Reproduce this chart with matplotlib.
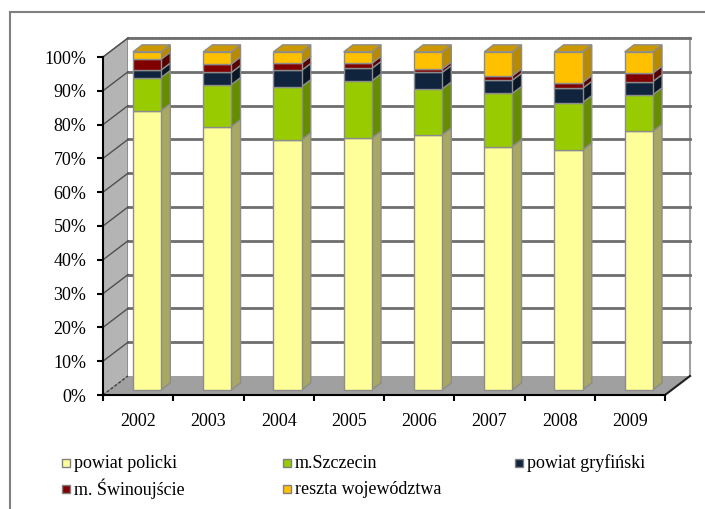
import matplotlib.pyplot as plt
from matplotlib.patches import Polygon, Rectangle
from matplotlib.lines import Line2D
import numpy as np

plt.rcParams['font.family'] = ['Liberation Serif', 'DejaVu Serif']

# udział (%) poszczególnych obszarów w kolejnych latach
lata = ['2002', '2003', '2004', '2005', '2006', '2007', '2008', '2009']
powiat_policki = [82.6, 77.9, 74.0, 74.5, 75.4, 72.0, 71.0, 76.5]
m_szczecin = [9.8, 12.4, 15.7, 16.9, 13.6, 15.7, 14.0, 10.8]
powiat_gryfinski = [2.2, 3.6, 4.8, 3.7, 4.9, 3.9, 4.2, 3.9]
m_swinoujscie = [3.2, 2.5, 2.1, 1.5, 1.0, 1.3, 1.7, 2.5]
reszta = [2.2, 3.6, 3.4, 3.4, 5.1, 7.1, 9.1, 6.3]

serie = [
    ('powiat policki', powiat_policki, '#FFFF99', '#A8A864'),
    ('m.Szczecin', m_szczecin, '#99CC00', '#668C00'),
    ('powiat gryfiński', powiat_gryfinski, '#10243E', '#0A1726'),
    ('m. Świnoujście', m_swinoujscie, '#800000', '#560000'),
    ('reszta województwa', reszta, '#FFC000', '#B88A00'),
]
kolor_gora = '#CC9900'

dane = np.array([s[1] for s in serie])
dane = dane / dane.sum(axis=0) * 100

fig = plt.figure(figsize=(7.05, 5.09), dpi=100)
ax = fig.add_axes([103 / 705, 114 / 509, 562 / 705, 338 / 509])
ax.set_xlim(-0.5, 7.5)
ax.set_ylim(0, 100)
ax.patch.set_visible(False)

# głębokość "3D" w jednostkach danych
DX = 25 / 70.25
DY = 19 / 3.38
x0, x1 = -0.5, 7.5

# ściana boczna, tylna i podłoga
ax.add_patch(Polygon([(x0, 0), (x0, 100), (x0 + DX, 100 + DY), (x0 + DX, DY)],
                     closed=True, fc='#B4B4B4', ec='#808080', lw=1, clip_on=False, zorder=1))
ax.add_patch(Rectangle((x0 + DX, DY), x1 - x0, 100, fc='white', ec='none',
                       clip_on=False, zorder=1))
ax.plot([x0 + DX, x1 + DX], [100 + DY, 100 + DY], color='#808080', lw=1.5,
        ls=(0, (1, 0.6)), clip_on=False, zorder=2)
ax.plot([x1 + DX, x1 + DX], [DY, 100 + DY], color='#A0A0A0', lw=1.5,
        clip_on=False, zorder=2)
for v in range(10, 101, 10):
    ax.plot([x0 + DX, x1 + DX], [v + DY, v + DY], color='#6E6E6E', lw=2,
            clip_on=False, zorder=2)
    ax.plot([x0, x0 + DX], [v, v + DY], color='#505050', lw=1,
            clip_on=False, zorder=2)
ax.add_patch(Polygon([(x0, 0), (x1, 0), (x1 + DX, DY), (x0 + DX, DY)],
                     closed=True, fc='#A0A0A0', ec='none', clip_on=False, zorder=2))
ax.plot([x0, x0 + DX], [0, DY], color='#404040', lw=1, ls=(0, (2, 1.5)),
        clip_on=False, zorder=3)
ax.plot([x1, x1 + DX], [0, DY], color='#202020', lw=1.5, clip_on=False, zorder=3)

# słupki
z0, z1 = 0.27, 0.64
szer = 0.4
xs = np.arange(len(lata)) + 0.03
bx = xs - szer / 2 + z0 * DX
dx_s = (z1 - z0) * DX
dy_s = (z1 - z0) * DY
krawedz = '#8C8C8C'
dol = np.zeros(len(lata))
for k, (nazwa, _, kolor, bok) in enumerate(serie):
    h = dane[k]
    ax.bar(bx, h, bottom=dol + z0 * DY, width=szer, align='edge', color=kolor,
           edgecolor=krawedz, linewidth=1, zorder=5, clip_on=False)
    for i in range(len(lata)):
        xr = bx[i] + szer
        yb = dol[i] + z0 * DY
        yt = yb + h[i]
        ax.add_patch(Polygon([(xr, yb), (xr + dx_s, yb + dy_s), (xr + dx_s, yt + dy_s), (xr, yt)],
                             closed=True, fc=bok, ec=krawedz, lw=1, zorder=4, clip_on=False))
        if k == len(serie) - 1:
            xl = bx[i]
            ax.add_patch(Polygon([(xl, yt), (xr, yt), (xr + dx_s, yt + dy_s), (xl + dx_s, yt + dy_s)],
                                 closed=True, fc=kolor_gora, ec=krawedz, lw=1, zorder=4,
                                 clip_on=False))
    dol = dol + h

# osie
for s in ['top', 'right']:
    ax.spines[s].set_visible(False)
for s in ['left', 'bottom']:
    ax.spines[s].set_color('black')
    ax.spines[s].set_linewidth(1.5)
    ax.spines[s].set_zorder(6)
ax.set_yticks(range(0, 101, 10))
ax.set_yticklabels(['{}%'.format(v) for v in range(0, 101, 10)])
ax.tick_params(axis='y', length=4, width=1.5, pad=8, labelsize=13)
ax.set_xticks(np.arange(len(lata)))
ax.set_xticklabels(lata)
ax.set_xticks(np.arange(-0.5, 8, 1), minor=True)
ax.tick_params(axis='x', which='major', length=0, pad=13, labelsize=13)
ax.tick_params(axis='x', which='minor', length=4, width=1.5)

# legenda
poz = [(66, 463), (287, 463), (519, 463), (66, 489), (287, 489)]
for (nazwa, _, kolor, _), (px, py) in zip(serie, poz):
    fig.patches.append(Rectangle(((px - 4) / 705, 1 - (py + 4) / 509), 8 / 705, 8 / 509,
                                 transform=fig.transFigure, fc=kolor, ec='#808080', lw=1))
    fig.text((px + 8) / 705, 1 - py / 509, nazwa, fontsize=13, va='center', ha='left')

# ramka wykresu
fig.lines.append(Line2D([10 / 705, 10 / 705], [0, 1 - 12 / 509], transform=fig.transFigure,
                        color='#808080', lw=1.5))
fig.lines.append(Line2D([10 / 705, 1], [1 - 12 / 509, 1 - 12 / 509], transform=fig.transFigure,
                        color='#808080', lw=1.5))

fig.savefig('out.png', dpi=100)
